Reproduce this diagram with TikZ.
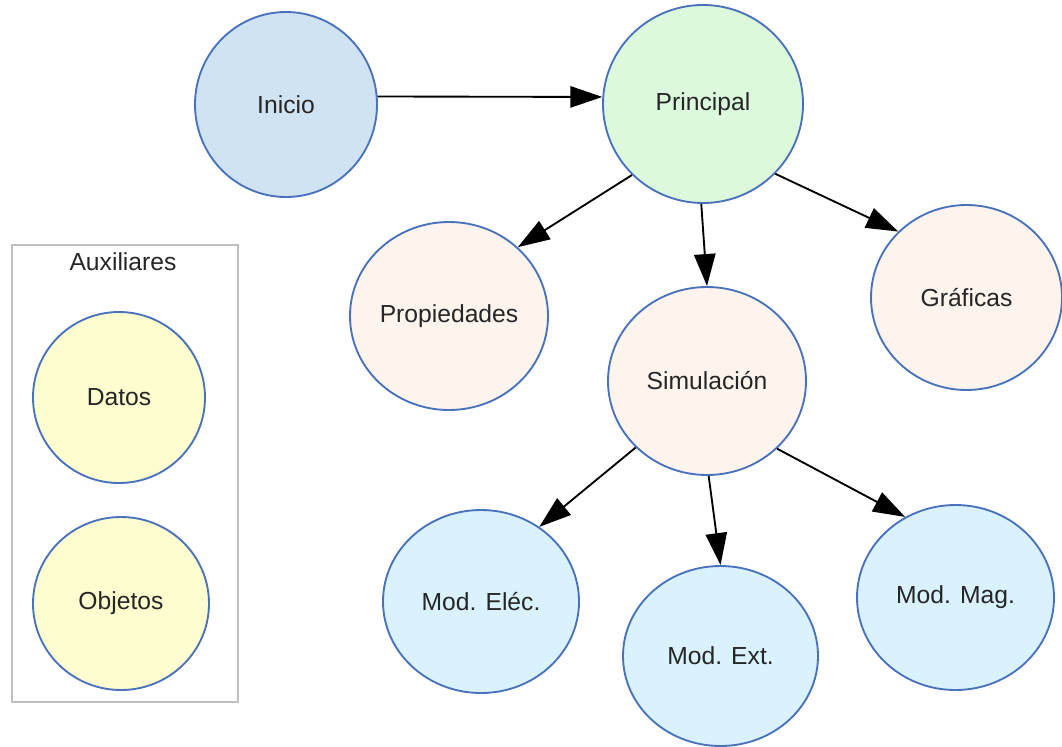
\documentclass[tikz,border=0pt]{standalone}
\usepackage{fontspec}
\setmainfont{Liberation Sans}
\usetikzlibrary{shapes.geometric,arrows.meta}
\definecolor{borde}{HTML}{4A72BC}
\definecolor{azul}{HTML}{CFE3F3}
\definecolor{verde}{HTML}{DDF9DD}
\definecolor{crema}{HTML}{FDF4EE}
\definecolor{amarillo}{HTML}{FDFDCF}
\definecolor{celeste}{HTML}{D9F2FD}
\begin{document}
\begin{tikzpicture}[x=0.75pt, y=-0.75pt, main/.style = {draw=borde, ellipse, line width=1.4pt, inner sep=0pt, text=black!85, font=\fontsize{18.5}{22}\selectfont}, >={Triangle[length=24pt,width=16pt]}, edge/.style = {->, line width=1.4pt}]
		\useasboundingbox (0,0) rectangle (1062,746);
		\draw[line width=2pt, black!25] (12,245) rectangle (238,702);
		\node (0) [font=\fontsize{18.5}{22}\selectfont, text=black!85] at (123,262) {Auxiliares};
		\node[main, fill=azul, minimum width=136.5pt, minimum height=138.75pt] (1) at (286,104.5) {Inicio};
		\node[main, fill=verde, minimum width=150pt, minimum height=148.5pt] (2) at (703,104) {Principal};
		\node[main, fill=crema, minimum width=148.5pt, minimum height=141pt] (3) at (449,316) {Propiedades};
		\node[main, fill=crema, minimum width=148.5pt, minimum height=141pt] (4) at (707,381) {Simulación};
		\node[main, fill=crema, minimum width=143.25pt, minimum height=138.75pt] (5) at (966.5,297.5) {Gráficas};
		\node[main, fill=celeste, minimum width=147pt, minimum height=137.25pt] (6) at (481,601.5) {Mod. Eléc.};
		\node[main, fill=celeste, minimum width=146.25pt, minimum height=135pt] (7) at (720.5,656) {Mod. Ext.};
		\node[main, fill=celeste, minimum width=147.75pt, minimum height=138.75pt] (8) at (955.5,597.5) {Mod. Mag.};
		\node[main, fill=amarillo, minimum width=129pt, minimum height=128.25pt] (9) at (119,397.5) {Datos};
		\node[main, fill=amarillo, minimum width=132pt, minimum height=129.75pt] (10) at (121,603.5) {Objetos};
		\draw[edge] (1.5) -- (2.176);
		\draw[edge] (2.225) -- (3.45);
		\draw[edge] (2.269) -- (4.90);
		\draw[edge] (2.-44) -- (5.136);
		\draw[edge] (4.223) -- (6.52);
		\draw[edge] (4.271) -- (7.90);
		\draw[edge] (4.-44) -- (8.122);
	\end{tikzpicture}
\end{document}
